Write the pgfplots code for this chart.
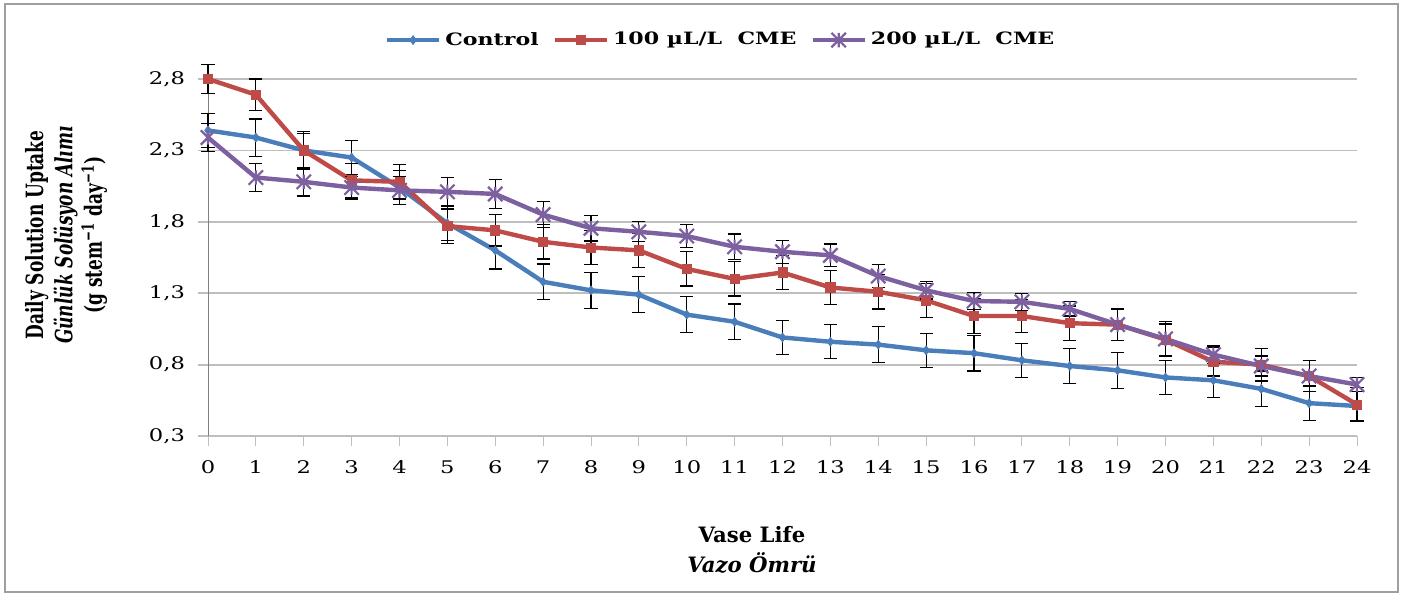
\documentclass[border=0pt]{standalone}
\usepackage{fontspec}
\setmainfont{DejaVu Serif}[FakeStretch=1.3]
\newfontfamily\plainserif{DejaVu Serif}
\usepackage{pgfplots}
\usepackage{pgfplotstable}
\pgfplotsset{compat=1.18}

\definecolor{cblue}{RGB}{74,126,187}
\definecolor{cred}{RGB}{190,75,72}
\definecolor{cpurple}{RGB}{125,96,160}
\definecolor{gridgray}{RGB}{190,190,190}

% Excel-like star marker: an X with a vertical stroke
\pgfdeclareplotmark{xstar}{%
  \pgfpathmoveto{\pgfqpoint{-\pgfplotmarksize}{-\pgfplotmarksize}}%
  \pgfpathlineto{\pgfqpoint{\pgfplotmarksize}{\pgfplotmarksize}}%
  \pgfpathmoveto{\pgfqpoint{-\pgfplotmarksize}{\pgfplotmarksize}}%
  \pgfpathlineto{\pgfqpoint{\pgfplotmarksize}{-\pgfplotmarksize}}%
  \pgfpathmoveto{\pgfqpoint{0pt}{-\pgfplotmarksize}}%
  \pgfpathlineto{\pgfqpoint{0pt}{\pgfplotmarksize}}%
  \pgfusepathqstroke}

% day, control, err, 100 uL/L CME, err, 200 uL/L CME, err
\pgfplotstableread{
x  c     ce    r     re    p     pe
0  2.44  0.12  2.80  0.10  2.39  0.10
1  2.39  0.13  2.69  0.11  2.11  0.10
2  2.30  0.12  2.30  0.13  2.08  0.10
3  2.25  0.12  2.09  0.12  2.04  0.08
4  2.04  0.12  2.08  0.12  2.02  0.10
5  1.79  0.12  1.77  0.12  2.01  0.10
6  1.60  0.13  1.74  0.11  1.995 0.10
7  1.38  0.125 1.66  0.12  1.85  0.09
8  1.32  0.125 1.62  0.12  1.755 0.09
9  1.29  0.125 1.60  0.12  1.73  0.07
10 1.15  0.125 1.47  0.12  1.70  0.08
11 1.10  0.125 1.40  0.12  1.625 0.09
12 0.99  0.12  1.445 0.12  1.59  0.08
13 0.96  0.12  1.34  0.12  1.565 0.08
14 0.94  0.125 1.31  0.12  1.42  0.08
15 0.90  0.12  1.25  0.12  1.32  0.06
16 0.88  0.125 1.14  0.12  1.245 0.06
17 0.83  0.12  1.14  0.115 1.24  0.06
18 0.79  0.125 1.09  0.12  1.19  0.05
19 0.76  0.125 1.08  0.11  1.08  0.11
20 0.71  0.12  0.975 0.11  0.98  0.12
21 0.69  0.12  0.82  0.10  0.87  0.06
22 0.63  0.125 0.80  0.115 0.79  0.07
23 0.53  0.12  0.72  0.11  0.72  0.11
24 0.51  0.10  0.52  0.12  0.66  0.05
}\uptake

\begin{document}
\begin{tikzpicture}
\useasboundingbox (0,0) rectangle (703pt,297pt);
\draw[gray!75, line width=1pt] (2.5pt,0.8pt) rectangle (699pt,295pt);

\begin{axis}[
  at={(104pt,79pt)}, anchor=south west,
  scale only axis,
  width=574.5pt, height=178.5pt,
  xmin=0, xmax=24, ymin=0.3, ymax=2.8,
  clip=false,
  xtick={0,...,24},
  ytick={0.3,0.8,1.3,1.8,2.3,2.8},
  axis lines=left,
  axis line style={-},
  x axis line style={gridgray, line width=0.9pt},
  y axis line style={gray, line width=0.5pt},
  ymajorgrids,
  grid style={gridgray, line width=0.9pt},
  tick align=outside,
  major tick length=5pt,
  x tick style={gridgray, line width=0.5pt},
  y tick style={gridgray, line width=0.9pt},
  /pgf/number format/assume math mode=true,
  ticklabel style={font=\fontsize{8.7}{10}\selectfont},
  xticklabel style={yshift=-4pt},
  yticklabel style={xshift=-3pt, /pgf/number format/.cd, fixed, fixed zerofill, precision=1, use comma},
  legend columns=3,
  legend style={at={(0.447,1.109)}, anchor=center, draw=none, fill=none,
    font=\bfseries\fontsize{8.5}{10}\selectfont,
    /tikz/every even column/.append style={column sep=5pt}},
  legend image code/.code={\draw[mark repeat=2, mark phase=2]
    plot coordinates {(0pt,0pt) (13pt,0pt) (26pt,0pt)};},
  every axis plot/.append style={line width=2.2pt},
  error bars/y dir=both,
  error bars/y explicit,
  error bars/error mark=|,
  error bars/error bar style={black, line width=0.6pt, solid},
  error bars/error mark options={black, line width=0.6pt, mark size=3.3pt},
]
\addplot[cblue, mark=diamond*, mark size=2.2pt, mark options={line width=0.4pt}]
  table[x=x, y=c, y error=ce] {\uptake};
\addlegendentry{Control}
\addplot[cred, mark=square*, mark size=2.3pt, mark options={line width=0.4pt}]
  table[x=x, y=r, y error=re] {\uptake};
\addlegendentry{100 µL/L\ \ CME}
\addplot[cpurple, mark=xstar, mark size=3.6pt, mark options={line width=1.1pt}]
  table[x=x, y=p, y error=pe] {\uptake};
\addlegendentry{200 µL/L\ \ CME}
\end{axis}

\node[font=\plainserif\bfseries\fontsize{8.5}{10.5}\selectfont, align=center,
  xscale=1.4, rotate=90] at (33pt,179.5pt)
  {Daily Solution Uptake\\ \itshape Günlük Solüsyon Alımı\\
   (g stem\textsuperscript{−1} day\textsuperscript{−1})};
\node[font=\plainserif\bfseries\fontsize{10.6}{15}\selectfont, align=center]
  at (376pt,22pt) {Vase Life\\ \itshape Vazo Ömrü};
\end{tikzpicture}
\end{document}
